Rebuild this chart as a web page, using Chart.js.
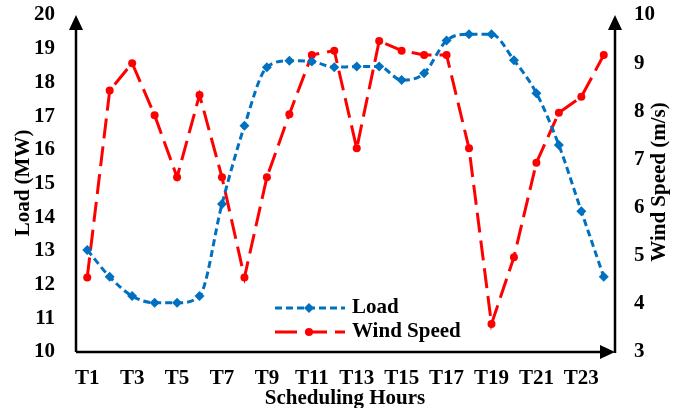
<!DOCTYPE html>
<html>
<head>
<meta charset="utf-8">
<script src="https://cdn.jsdelivr.net/npm/chart.js@4"></script>
<style>
  body { margin: 0; background: #fff; }
  #wrap { width: 691px; height: 408px; }
</style>
</head>
<body>
<div id="wrap"><canvas id="lineChart"></canvas></div>
<script>
// ---------------- data ----------------
const hours = ['T1','T2','T3','T4','T5','T6','T7','T8','T9','T10','T11','T12',
               'T13','T14','T15','T16','T17','T18','T19','T20','T21','T22','T23','T24'];
const load = [13.03, 12.23, 11.66, 11.46, 11.46, 11.66, 14.39, 16.71, 18.45, 18.64, 18.62, 18.45,
              18.47, 18.47, 18.07, 18.27, 19.24, 19.43, 19.43, 18.66, 17.68, 16.14, 14.18, 12.23];
const windSpeed = [4.55, 8.43, 9.0, 7.92, 6.63, 8.34, 6.63, 4.55, 6.63, 7.94, 9.17, 9.26,
                   7.23, 9.46, 9.26, 9.17, 9.17, 7.23, 3.58, 4.97, 6.93, 7.97, 8.30, 9.17];
const loadRange = [10, 20];
const windRange = [3, 10];

const FONT = '"Liberation Serif", "Times New Roman", serif';
const BLUE = '#0070C0';
const RED = '#FF0000';

// ---------------- axes, titles, legend ----------------
const decorations = {
  id: 'decorations',
  afterDraw(chart) {
    const c = chart.ctx;
    const a = chart.chartArea;
    c.save();
    c.strokeStyle = '#000';
    c.fillStyle = '#000';
    c.lineWidth = 2.5;
    // axis lines
    c.beginPath();
    c.moveTo(a.left, a.bottom); c.lineTo(a.left, a.top + 12);
    c.moveTo(a.left, a.bottom); c.lineTo(a.right - 12, a.bottom);
    c.moveTo(a.right, a.bottom + 1); c.lineTo(a.right, a.top + 12);
    c.stroke();
    // arrow heads
    const head = (pts) => {
      c.beginPath();
      c.moveTo(pts[0][0], pts[0][1]);
      c.lineTo(pts[1][0], pts[1][1]);
      c.lineTo(pts[2][0], pts[2][1]);
      c.closePath();
      c.fill();
    };
    head([[a.left, a.top], [a.left - 7, a.top + 15], [a.left + 7, a.top + 15]]);
    head([[a.right, a.top], [a.right - 7, a.top + 15], [a.right + 7, a.top + 15]]);
    head([[a.right, a.bottom], [a.right - 15, a.bottom - 7], [a.right - 15, a.bottom + 7]]);

    // axis titles
    c.font = 'bold 21px ' + FONT;
    c.textAlign = 'center';
    c.textBaseline = 'middle';
    c.fillText('Scheduling Hours', 345, 399);
    c.save();
    c.translate(24, 183);
    c.rotate(-Math.PI / 2);
    c.fillText('Load (MW)', 0, 0);
    c.restore();
    c.save();
    c.translate(660, 182);
    c.rotate(-Math.PI / 2);
    c.fillText('Wind Speed (m/s)', 0, 0);
    c.restore();

    // legend
    const items = [
      { text: 'Load', color: BLUE, dash: [7, 4], y: 308, marker: 'diamond' },
      { text: 'Wind Speed', color: RED, dash: [22, 8], y: 332, marker: 'circle' }
    ];
    items.forEach(it => {
      c.strokeStyle = it.color;
      c.fillStyle = it.color;
      c.lineWidth = 3;
      c.setLineDash(it.dash);
      c.beginPath();
      c.moveTo(275, it.y); c.lineTo(345, it.y);
      c.stroke();
      c.setLineDash([]);
      c.beginPath();
      if (it.marker === 'diamond') {
        c.moveTo(309, it.y - 5); c.lineTo(314, it.y); c.lineTo(309, it.y + 5); c.lineTo(304, it.y);
        c.closePath();
      } else {
        c.arc(309, it.y, 4, 0, Math.PI * 2);
      }
      c.fill();
      c.fillStyle = '#000';
      c.font = 'bold 21px ' + FONT;
      c.textAlign = 'left';
      c.fillText(it.text, 352, it.y);
    });
    c.restore();
  }
};

const noEdgePad = (scale, w) => {
  scale.width = w;
  scale.paddingTop = 0;
  scale.paddingBottom = 0;
};

const ctx = document.getElementById('lineChart');

new Chart(ctx, {
  type: 'line',
  data: {
    labels: hours,
    datasets: [{
      label: 'Load',
      data: load,
      yAxisID: 'yLoad',
      borderColor: BLUE,
      backgroundColor: BLUE,
      borderWidth: 3,
      borderDash: [7, 4],
      pointStyle: 'rectRot',
      pointRadius: 5,
      pointBorderWidth: 0,
      tension: 0.3,
      cubicInterpolationMode: 'monotone'
    }, {
      label: 'Wind Speed',
      data: windSpeed,
      yAxisID: 'yWind',
      borderColor: RED,
      backgroundColor: RED,
      borderWidth: 3,
      borderDash: [20, 8],
      pointStyle: 'circle',
      pointRadius: 4,
      pointBorderWidth: 0,
      tension: 0
    }]
  },
  options: {
    responsive: true,
    maintainAspectRatio: false,
    animation: false,
    layout: { padding: { top: 15, left: 0, right: 0, bottom: 0 } },
    plugins: {
      legend: { display: false },
      tooltip: { enabled: false }
    },
    scales: {
      x: {
        type: 'category',
        offset: true,
        grid: { display: false },
        border: { display: false },
        afterFit(scale) {
          scale.height = 56;
          scale.paddingLeft = 0;
          scale.paddingRight = 0;
        },
        ticks: {
          autoSkip: false,
          maxRotation: 0,
          padding: 6,
          color: '#000',
          font: { family: FONT, size: 21, weight: 'bold' },
          callback(v, i) { return i % 2 === 0 ? hours[i] : ''; }
        }
      },
      yLoad: {
        position: 'left',
        min: loadRange[0],
        max: loadRange[1],
        grid: { display: false },
        border: { display: false },
        afterFit(scale) { noEdgePad(scale, 76); },
        ticks: {
          stepSize: 1,
          padding: 13,
          color: '#000',
          font: { family: FONT, size: 21, weight: 'bold' }
        }
      },
      yWind: {
        position: 'right',
        min: windRange[0],
        max: windRange[1],
        grid: { display: false },
        border: { display: false },
        afterFit(scale) { noEdgePad(scale, 76); },
        ticks: {
          stepSize: 1,
          padding: 11,
          color: '#000',
          font: { family: FONT, size: 21, weight: 'bold' }
        }
      }
    }
  },
  plugins: [decorations]
});
</script>
</body>
</html>
